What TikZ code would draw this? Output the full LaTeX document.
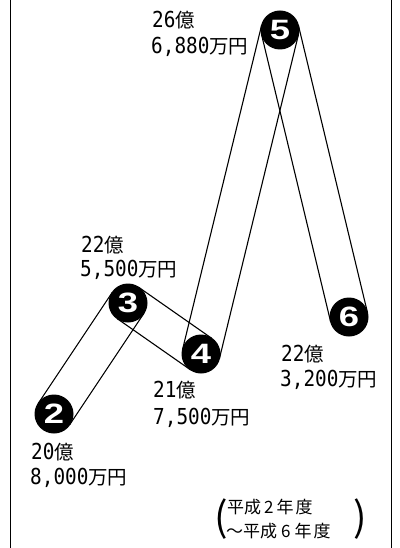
\documentclass[tikz,border=0pt]{standalone}
\usepackage{fontspec}
\setmainfont{Noto Sans CJK JP}
\newfontfamily\dgf[FakeStretch=0.88]{DejaVu Sans Mono}
\newcommand\dg{\dgf\fontsize{22}{22}\selectfont}
\newfontfamily\nm{Liberation Sans}
\usetikzlibrary{calc}
\newcommand\bandpair[2]{%
  \draw[band] ($(#1)!19pt!90:(#2)$) -- ($(#2)!19pt!-90:(#1)$);
  \draw[band] ($(#1)!19pt!-90:(#2)$) -- ($(#2)!19pt!90:(#1)$);}
\begin{document}
\begin{tikzpicture}[x=1pt,y=-1pt,
  num/.style={circle,fill=black,minimum size=39pt,inner sep=0pt,text=white,
    font=\nm\bfseries\fontsize{28}{28}\selectfont},
  lbl/.style={anchor=base west,inner sep=0pt,font=\fontsize{19.5}{19.5}\selectfont},
  note/.style={anchor=base west,inner sep=0pt,font=\fontsize{17}{17}\selectfont},
  paren/.style={inner sep=0pt,font=\fontsize{40}{40}\selectfont},
  band/.style={line width=1.1pt},
  framel/.style={line width=1pt}]
\useasboundingbox (0,0) rectangle (399,548);
% frame lines
\coordinate (fl1) at (10,0); \coordinate (fl2) at (10,548);
\coordinate (fr1) at (391,0); \coordinate (fr2) at (391,548);
\draw[framel] (fl1) -- (fl2);
\draw[framel] (fr1) -- (fr2);
% circles
\node[num] (c2) at (54,414) {\scalebox{1.3}[1]{2}};
\node[num] (c3) at (128,303) {\scalebox{1.3}[1]{3}};
\node[num] (c4) at (201,354) {\scalebox{1.3}[1]{4}};
\node[num] (c5) at (280,30) {\scalebox{1.3}[1]{5}};
\node[num] (c6) at (349,317) {\scalebox{1.3}[1]{6}};
% bands
\bandpair{c2}{c3}
\bandpair{c3}{c4}
\bandpair{c4}{c5}
\bandpair{c5}{c6}
% labels
\node[lbl] (t5a) at (152,28) {{\dg 26}億};
\node[lbl] (t5b) at (151,54) {{\dg 6,880}万円};
\node[lbl] (t3a) at (81,252) {{\dg 22}億};
\node[lbl] (t3b) at (80,276) {{\dg 5,500}万円};
\node[lbl] (t4a) at (153,397) {{\dg 21}億};
\node[lbl] (t4b) at (153,424) {{\dg 7,500}万円};
\node[lbl] (t6a) at (281,361) {{\dg 22}億};
\node[lbl] (t6b) at (280,386) {{\dg 3,200}万円};
\node[lbl] (t2a) at (31,459) {{\dg 20}億};
\node[lbl] (t2b) at (30,484) {{\dg 8,000}万円};
% period note
\node[note] (n1) at (227,513) {平成\hspace{3pt}2\hspace{3pt}年\hspace{2pt}度};
\node[note] (n2) at (226,537) {～平成\hspace{4pt}6\hspace{4pt}年\hspace{2pt}度};
\node[paren] (pl) at (221,519) {(};
\node[paren] (pr) at (360,519) {)};
\end{tikzpicture}
\end{document}
